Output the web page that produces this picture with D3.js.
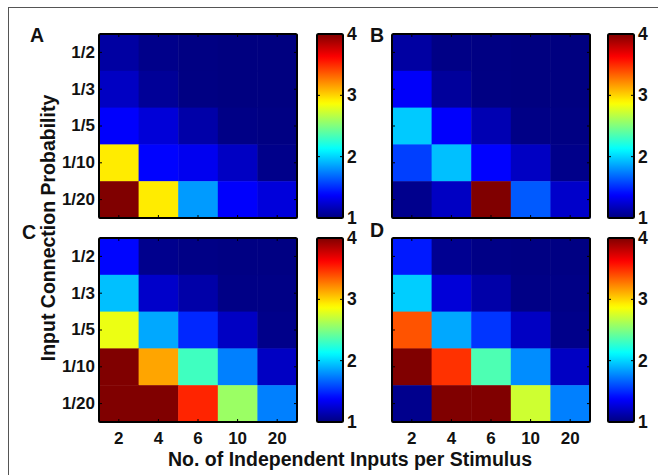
<!DOCTYPE html>
<html><head><meta charset="utf-8">
<script src="https://cdn.jsdelivr.net/npm/d3@7/dist/d3.min.js"></script>
<style>
html,body{margin:0;padding:0;background:#fff;}
svg{display:block;font-family:"Liberation Sans",Arial,Helvetica,sans-serif;font-weight:bold;}
</style></head>
<body>
<svg id="chart" width="658" height="475"></svg>
<script>
// ---- data ----
const colLabels = ["2", "4", "6", "10", "20"];
const rowLabels = ["1/2", "1/3", "1/5", "1/10", "1/20"];
const colorTicks = [1, 2, 3, 4];
const panelNames = ["A", "B", "C", "D"];
// rows: 1/2, 1/3, 1/5, 1/10, 1/20 ; columns: 2, 4, 6, 10, 20
const valuesA = [
  [1.10, 1.03, 1.01, 1.00, 1.00],
  [1.20, 1.07, 1.01, 1.00, 1.00],
  [1.37, 1.26, 1.12, 1.02, 1.01],
  [2.93, 1.38, 1.33, 1.20, 1.03],
  [4.00, 2.93, 1.83, 1.37, 1.27]
];
const valuesB = [
  [1.10, 1.02, 1.01, 1.00, 1.00],
  [1.36, 1.08, 1.01, 1.00, 1.00],
  [1.97, 1.37, 1.15, 1.02, 1.01],
  [1.56, 1.94, 1.38, 1.20, 1.03],
  [1.04, 1.20, 4.00, 1.64, 1.22]
];
const valuesC = [
  [1.39, 1.04, 1.02, 1.01, 1.01],
  [1.94, 1.22, 1.12, 1.02, 1.02],
  [2.82, 1.87, 1.49, 1.20, 1.03],
  [4.00, 3.14, 2.31, 1.75, 1.20],
  [4.00, 4.00, 3.52, 2.58, 1.75]
];
const valuesD = [
  [1.45, 1.05, 1.02, 1.01, 1.01],
  [1.98, 1.26, 1.12, 1.02, 1.02],
  [3.38, 1.87, 1.53, 1.20, 1.03],
  [4.00, 3.48, 2.35, 1.79, 1.20],
  [1.04, 4.00, 4.00, 2.73, 1.75]
];
const xTitle = "No. of Independent Inputs per Stimulus";
const yTitle = "Input Connection Probability";

// ---- jet colormap ----
function jet(t) {
  t = Math.max(0, Math.min(1, t));
  const clamp = v => Math.max(0, Math.min(1, v));
  const r = clamp(Math.min(4 * t - 1.5, -4 * t + 4.5));
  const g = clamp(Math.min(4 * t - 0.5, -4 * t + 3.5));
  const b = clamp(Math.min(4 * t + 0.5, -4 * t + 2.5));
  return d3.rgb(r * 255, g * 255, b * 255).toString();
}
const cnorm = d3.scaleLinear().domain([1, 4]).range([0, 1]).clamp(true);
const color = v => jet(cnorm(v));

const svg = d3.select("#chart");
const FONT = "Liberation Sans, Arial, sans-serif";

// outer frame (only top & left visible)
svg.append("rect").attr("x", 8.5).attr("y", 7.5).attr("width", 700).attr("height", 500)
  .attr("fill", "none").attr("stroke", "#555").attr("stroke-width", 1);

// defs gradient for colorbar
const defs = svg.append("defs");
const grad = defs.append("linearGradient").attr("id", "jetgrad")
  .attr("x1", 0).attr("y1", 1).attr("x2", 0).attr("y2", 0);
d3.range(0, 1.0001, 0.02).forEach(t => {
  grad.append("stop").attr("offset", t).attr("stop-color", jet(t));
});

const panels = [
  {name: "A", data: valuesA, x0: 99, y0: 34, cbx: 317, lx: 30, ly: 42, yLab: true, xLab: false},
  {name: "B", data: valuesB, x0: 392, y0: 34, cbx: 608, lx: 370, ly: 42, yLab: false, xLab: false},
  {name: "C", data: valuesC, x0: 99, y0: 238, cbx: 317, lx: 22, ly: 239, yLab: true, xLab: true},
  {name: "D", data: valuesD, x0: 392, y0: 238, cbx: 608, lx: 370, ly: 237, yLab: false, xLab: true}
];
const W = 198, H = 184, CBW = 26;

panels.forEach(p => {
  const g = svg.append("g");
  const x = d3.scaleBand().domain(colLabels).range([p.x0, p.x0 + W]);
  const y = d3.scaleBand().domain(rowLabels).range([p.y0, p.y0 + H]);
  const cells = [];
  p.data.forEach((row, i) => row.forEach((v, j) => cells.push({r: rowLabels[i], c: colLabels[j], v})));
  g.selectAll("rect.cell").data(cells).join("rect").attr("class", "cell")
    .attr("x", d => x(d.c)).attr("y", d => y(d.r))
    .attr("width", x.bandwidth() + 0.5).attr("height", y.bandwidth() + 0.5)
    .attr("fill", d => color(d.v));
  // small ticks inside the box
  const tk = g.append("g").attr("stroke", "#000").attr("stroke-width", 1);
  colLabels.forEach(c => {
    const cx = x(c) + x.bandwidth() / 2;
    tk.append("line").attr("x1", cx).attr("x2", cx).attr("y1", p.y0 + H).attr("y2", p.y0 + H - 3);
    tk.append("line").attr("x1", cx).attr("x2", cx).attr("y1", p.y0).attr("y2", p.y0 + 3);
  });
  rowLabels.forEach(r => {
    const cy = y(r) + y.bandwidth() / 2;
    tk.append("line").attr("x1", p.x0).attr("x2", p.x0 + 3).attr("y1", cy).attr("y2", cy);
    tk.append("line").attr("x1", p.x0 + W).attr("x2", p.x0 + W - 3).attr("y1", cy).attr("y2", cy);
  });
  g.append("rect").attr("x", p.x0).attr("y", p.y0).attr("width", W).attr("height", H)
    .attr("fill", "none").attr("stroke", "#000").attr("stroke-width", 2).attr("rx", 1.5);

  if (p.yLab) {
    const ax = d3.axisLeft(y).tickSize(0).tickPadding(4);
    const a = g.append("g").attr("transform", `translate(${p.x0},0)`).call(ax);
    a.select(".domain").remove();
    a.selectAll("text").attr("font-size", 17).attr("font-weight", "bold")
      .attr("font-family", FONT).attr("fill", "#111");
  }
  if (p.xLab) {
    const ax = d3.axisBottom(x).tickSize(0).tickPadding(10);
    const a = g.append("g").attr("transform", `translate(0,${p.y0 + H})`).call(ax);
    a.select(".domain").remove();
    a.selectAll("text").attr("font-size", 17).attr("font-weight", "bold")
      .attr("font-family", FONT).attr("fill", "#111");
  }

  // colorbar
  const cs = d3.scaleLinear().domain([1, 4]).range([p.y0 + H, p.y0]);
  g.append("rect").attr("x", p.cbx).attr("y", p.y0).attr("width", CBW).attr("height", H)
    .attr("fill", "url(#jetgrad)");
  const ctk = g.append("g").attr("stroke", "#000").attr("stroke-width", 1);
  colorTicks.slice(1, -1).forEach(t => {
    ctk.append("line").attr("x1", p.cbx).attr("x2", p.cbx + 3).attr("y1", cs(t)).attr("y2", cs(t));
    ctk.append("line").attr("x1", p.cbx + CBW).attr("x2", p.cbx + CBW - 3).attr("y1", cs(t)).attr("y2", cs(t));
  });
  g.append("rect").attr("x", p.cbx).attr("y", p.y0).attr("width", CBW).attr("height", H)
    .attr("fill", "none").attr("stroke", "#000").attr("stroke-width", 2).attr("rx", 1.5);
  const cax = d3.axisRight(cs).tickValues(colorTicks).tickFormat(d3.format("d")).tickSize(0).tickPadding(4);
  const ca = g.append("g").attr("transform", `translate(${p.cbx + CBW},0)`).call(cax);
  ca.select(".domain").remove();
  ca.selectAll("text").attr("font-size", 17.5).attr("font-weight", "bold")
    .attr("font-family", FONT).attr("fill", "#111");

  // panel letter
  svg.append("text").attr("x", p.lx).attr("y", p.ly).text(p.name)
    .attr("font-size", 19.5).attr("font-weight", "bold").attr("fill", "#111");
});

// axis titles
svg.append("text").attr("x", 350).attr("y", 466).attr("text-anchor", "middle")
  .attr("font-size", 19.5).attr("font-weight", "bold").attr("fill", "#111").text(xTitle);
svg.append("text").attr("transform", "translate(55,228) rotate(-90)").attr("text-anchor", "middle")
  .attr("font-size", 19.5).attr("font-weight", "bold").attr("fill", "#111").text(yTitle);
</script>
</body></html>
